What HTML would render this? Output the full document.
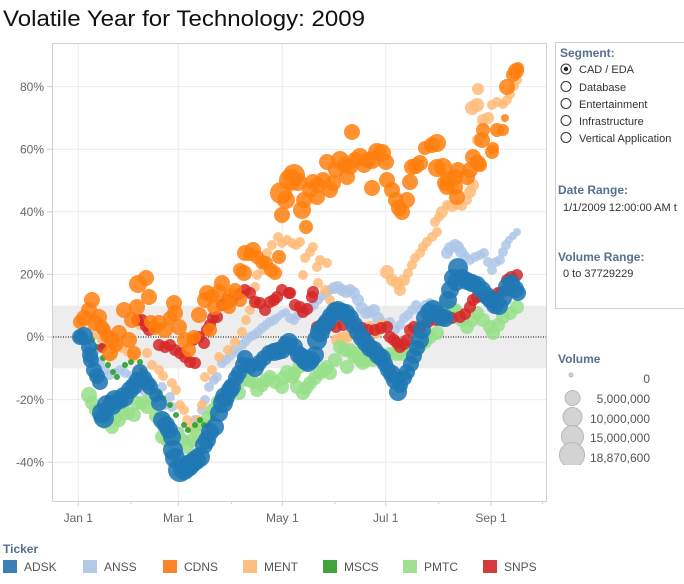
<!DOCTYPE html>
<html><head><meta charset="utf-8"><style>
html,body{margin:0;padding:0;background:#fff;}
svg{display:block;font-family:"Liberation Sans",Arial,sans-serif;}
.adsk circle{fill:#1f77b4;fill-opacity:.88}
.anss circle{fill:#aec7e8;fill-opacity:.85}
.cdns circle{fill:#ff7f0e;fill-opacity:.85}
.ment circle{fill:#ffbb78;fill-opacity:.85}
.mscs circle{fill:#2ca02c;fill-opacity:.9}
.pmtc circle{fill:#98df8a;fill-opacity:.85}
.snps circle{fill:#d62728;fill-opacity:.85}
.lab{font-size:12px;fill:#666}
.pt{font-size:11px;fill:#333}
.ttl{font-size:12px;font-weight:bold;fill:#56708f}
</style></head><body>
<svg width="684" height="584" viewBox="0 0 684 584" xmlns="http://www.w3.org/2000/svg">
<text x="3" y="26" font-size="22" fill="#111" textLength="362" lengthAdjust="spacingAndGlyphs">Volatile Year for Technology: 2009</text>

<rect x="53" y="305.7" width="493" height="62.6" fill="#ededed"/>
<g stroke="#ebebeb" stroke-width="1">
<line x1="53" y1="86.6" x2="546" y2="86.6"/>
<line x1="53" y1="149.2" x2="546" y2="149.2"/>
<line x1="53" y1="211.8" x2="546" y2="211.8"/>
<line x1="53" y1="274.4" x2="546" y2="274.4"/>
<line x1="53" y1="399.6" x2="546" y2="399.6"/>
<line x1="53" y1="462.2" x2="546" y2="462.2"/>
<line x1="78.3" y1="44" x2="78.3" y2="501"/>
<line x1="178.3" y1="44" x2="178.3" y2="501"/>
<line x1="282.3" y1="44" x2="282.3" y2="501"/>
<line x1="385.7" y1="44" x2="385.7" y2="501"/>
<line x1="491" y1="44" x2="491" y2="501"/>
</g>
<line x1="53" y1="337" x2="546" y2="337" stroke="#000" stroke-width="1" stroke-dasharray="1,1.5"/>
<g stroke="#d0d0d0" stroke-width="1" fill="none">
<line x1="52.5" y1="43.5" x2="546.5" y2="43.5"/>
<line x1="52.5" y1="43.5" x2="52.5" y2="501.5"/>
<line x1="546.5" y1="43.5" x2="546.5" y2="501.5"/>
<line x1="52.5" y1="501.5" x2="546.5" y2="501.5"/>
<line x1="47" y1="86.6" x2="52" y2="86.6"/>
<line x1="47" y1="149.2" x2="52" y2="149.2"/>
<line x1="47" y1="211.8" x2="52" y2="211.8"/>
<line x1="47" y1="274.4" x2="52" y2="274.4"/>
<line x1="47" y1="337" x2="52" y2="337"/>
<line x1="47" y1="399.6" x2="52" y2="399.6"/>
<line x1="47" y1="462.2" x2="52" y2="462.2"/>
<line x1="78.3" y1="502" x2="78.3" y2="506"/>
<line x1="178.3" y1="502" x2="178.3" y2="506"/>
<line x1="282.3" y1="502" x2="282.3" y2="506"/>
<line x1="385.7" y1="502" x2="385.7" y2="506"/>
<line x1="491" y1="502" x2="491" y2="506"/>
<line x1="131" y1="502" x2="131" y2="504"/>
<line x1="231.3" y1="502" x2="231.3" y2="504"/>
<line x1="335" y1="502" x2="335" y2="504"/>
<line x1="438.7" y1="502" x2="438.7" y2="504"/>
<line x1="542.4" y1="502" x2="542.4" y2="504"/>
</g>
<g class="lab" text-anchor="end">
<text x="44" y="91">80%</text>
<text x="44" y="153.5">60%</text>
<text x="44" y="216">40%</text>
<text x="44" y="278.5">20%</text>
<text x="44" y="341">0%</text>
<text x="44" y="404">-20%</text>
<text x="44" y="466.5">-40%</text>
</g>
<g class="lab" text-anchor="middle">
<text x="78.3" y="522">Jan 1</text>
<text x="178.3" y="522">Mar 1</text>
<text x="282.3" y="522">May 1</text>
<text x="385.7" y="522">Jul 1</text>
<text x="491" y="522">Sep 1</text>
</g>

<g class="anss">
<circle cx="82" cy="337" r="5"/><circle cx="88" cy="345" r="4"/><circle cx="95" cy="352" r="4"/><circle cx="100" cy="362" r="5"/><circle cx="105" cy="370" r="5"/><circle cx="110" cy="375" r="5"/><circle cx="115" cy="372" r="4"/><circle cx="120" cy="370" r="5"/><circle cx="125" cy="373" r="5"/><circle cx="130" cy="375" r="4"/><circle cx="135" cy="380" r="4"/><circle cx="140" cy="388" r="5"/><circle cx="145" cy="392" r="5"/><circle cx="152" cy="383" r="5"/><circle cx="155" cy="404" r="5"/><circle cx="162" cy="387" r="5"/><circle cx="165" cy="405" r="5"/><circle cx="170" cy="397" r="5"/><circle cx="172" cy="407" r="5"/><circle cx="180" cy="432" r="5"/><circle cx="185" cy="440" r="5"/><circle cx="192" cy="443" r="5"/><circle cx="195" cy="420" r="5"/><circle cx="202" cy="410" r="5"/><circle cx="205" cy="400" r="5"/><circle cx="209" cy="387" r="5"/><circle cx="214" cy="380" r="5"/><circle cx="217" cy="377" r="5"/><circle cx="222" cy="363" r="5"/><circle cx="226" cy="360" r="5"/><circle cx="230" cy="356" r="5"/><circle cx="234" cy="350" r="5"/><circle cx="239" cy="353" r="5"/><circle cx="242" cy="345" r="5"/><circle cx="246" cy="341" r="5"/><circle cx="250" cy="337" r="5"/><circle cx="254" cy="335" r="5"/><circle cx="258" cy="332" r="5"/><circle cx="262" cy="328" r="5"/><circle cx="266" cy="325" r="5"/><circle cx="270" cy="322" r="5"/><circle cx="274" cy="320" r="5"/><circle cx="278" cy="317" r="4"/><circle cx="282" cy="314" r="4"/><circle cx="286" cy="312" r="4"/><circle cx="290" cy="318" r="5"/><circle cx="294" cy="320" r="5"/><circle cx="298" cy="315" r="5"/><circle cx="302" cy="312" r="5"/><circle cx="306" cy="310" r="5"/><circle cx="310" cy="308" r="5"/><circle cx="314" cy="305" r="5"/><circle cx="318" cy="300" r="5"/><circle cx="322" cy="296" r="5"/><circle cx="326" cy="293" r="5"/><circle cx="330" cy="290" r="5"/><circle cx="334" cy="288" r="6"/><circle cx="338" cy="287" r="6"/><circle cx="342" cy="290" r="6"/><circle cx="346" cy="292" r="6"/><circle cx="350" cy="290" r="6"/><circle cx="354" cy="293" r="6"/><circle cx="358" cy="300" r="6"/><circle cx="362" cy="308" r="6"/><circle cx="366" cy="313" r="6"/><circle cx="370" cy="312" r="6"/><circle cx="374" cy="310" r="6"/><circle cx="378" cy="318" r="6"/><circle cx="382" cy="322" r="5"/><circle cx="386" cy="325" r="5"/><circle cx="390" cy="322" r="5"/><circle cx="395" cy="330" r="5"/><circle cx="400" cy="325" r="5"/><circle cx="404" cy="318" r="5"/><circle cx="408" cy="315" r="5"/><circle cx="412" cy="310" r="5"/><circle cx="416" cy="305" r="5"/><circle cx="420" cy="310" r="5"/><circle cx="425" cy="305" r="5"/><circle cx="430" cy="303" r="5"/><circle cx="435" cy="308" r="5"/><circle cx="440" cy="308" r="5"/><circle cx="444" cy="300" r="5"/><circle cx="447" cy="253" r="6"/><circle cx="450" cy="248" r="6"/><circle cx="455" cy="245" r="6"/><circle cx="458" cy="247" r="6"/><circle cx="461" cy="252" r="6"/><circle cx="465" cy="256" r="5"/><circle cx="470" cy="260" r="5"/><circle cx="475" cy="257" r="5"/><circle cx="480" cy="255" r="5"/><circle cx="484" cy="253" r="5"/><circle cx="488" cy="262" r="5"/><circle cx="492" cy="270" r="5"/><circle cx="496" cy="262" r="5"/><circle cx="500" cy="260" r="5"/><circle cx="503" cy="252" r="5"/><circle cx="506" cy="245" r="5"/><circle cx="509" cy="240" r="4"/><circle cx="513" cy="236" r="4"/><circle cx="517" cy="232" r="4"/>
</g>

<g class="ment">
<circle cx="80" cy="337" r="5"/><circle cx="95" cy="335" r="5"/><circle cx="102" cy="340" r="5"/><circle cx="105" cy="345" r="5"/><circle cx="110" cy="357" r="5"/><circle cx="115" cy="350" r="4"/><circle cx="122" cy="348" r="5"/><circle cx="128" cy="352" r="5"/><circle cx="133" cy="357" r="5"/><circle cx="140" cy="325" r="5"/><circle cx="147" cy="353" r="5"/><circle cx="152" cy="365" r="5"/><circle cx="159" cy="370" r="5"/><circle cx="163" cy="376" r="5"/><circle cx="172" cy="383" r="5"/><circle cx="176" cy="390" r="5"/><circle cx="180" cy="405" r="5"/><circle cx="184" cy="410" r="5"/><circle cx="187" cy="420" r="5"/><circle cx="190" cy="428" r="5"/><circle cx="195" cy="430" r="5"/><circle cx="198" cy="420" r="5"/><circle cx="202" cy="405" r="5"/><circle cx="205" cy="377" r="5"/><circle cx="212" cy="370" r="5"/><circle cx="219" cy="357" r="5"/><circle cx="228" cy="350" r="5"/><circle cx="235" cy="342" r="5"/><circle cx="242" cy="332" r="5"/><circle cx="246" cy="320" r="5"/><circle cx="250" cy="310" r="5"/><circle cx="255" cy="300" r="5"/><circle cx="255" cy="287" r="5"/><circle cx="257" cy="275" r="5"/><circle cx="263" cy="270" r="5"/><circle cx="267" cy="253" r="5"/><circle cx="272" cy="245" r="5"/><circle cx="278" cy="237" r="5"/><circle cx="282" cy="243" r="5"/><circle cx="287" cy="240" r="5"/><circle cx="292" cy="243" r="5"/><circle cx="296" cy="245" r="5"/><circle cx="300" cy="242" r="5"/><circle cx="305" cy="258" r="5"/><circle cx="310" cy="252" r="5"/><circle cx="313" cy="247" r="5"/><circle cx="317" cy="267" r="5"/><circle cx="320" cy="260" r="5"/><circle cx="327" cy="263" r="5"/><circle cx="303" cy="275" r="5"/><circle cx="318" cy="283" r="5"/><circle cx="325" cy="290" r="5"/><circle cx="330" cy="300" r="5"/><circle cx="335" cy="320" r="6"/><circle cx="337" cy="340" r="6"/><circle cx="342" cy="338" r="6"/><circle cx="347" cy="337" r="6"/><circle cx="352" cy="334" r="6"/><circle cx="358" cy="330" r="6"/><circle cx="364" cy="328" r="6"/><circle cx="370" cy="327" r="6"/><circle cx="375" cy="333" r="6"/><circle cx="378" cy="330" r="6"/><circle cx="382" cy="325" r="6"/><circle cx="387" cy="272" r="7"/><circle cx="392" cy="280" r="6"/><circle cx="397" cy="283" r="6"/><circle cx="400" cy="290" r="6"/><circle cx="404" cy="280" r="6"/><circle cx="408" cy="273" r="5"/><circle cx="412" cy="265" r="5"/><circle cx="415" cy="258" r="5"/><circle cx="420" cy="253" r="5"/><circle cx="423" cy="247" r="5"/><circle cx="427" cy="242" r="5"/><circle cx="432" cy="237" r="5"/><circle cx="437" cy="232" r="5"/><circle cx="435" cy="222" r="5"/><circle cx="439" cy="217" r="5"/><circle cx="442" cy="212" r="6"/><circle cx="447" cy="205" r="5"/><circle cx="452" cy="206" r="6"/><circle cx="457" cy="205" r="5"/><circle cx="462" cy="206" r="5"/><circle cx="467" cy="200" r="5"/><circle cx="470" cy="192" r="6"/><circle cx="473" cy="185" r="6"/><circle cx="476" cy="160" r="6"/><circle cx="478" cy="140" r="6"/><circle cx="472" cy="108" r="7"/><circle cx="477" cy="105" r="7"/><circle cx="478" cy="89" r="6"/><circle cx="483" cy="120" r="6"/><circle cx="488" cy="118" r="6"/><circle cx="492" cy="105" r="5"/><circle cx="497" cy="102" r="5"/><circle cx="503" cy="104" r="5"/><circle cx="507" cy="100" r="5"/><circle cx="510" cy="94" r="5"/><circle cx="514" cy="86" r="5"/><circle cx="517" cy="80" r="5"/>
</g>

<g class="pmtc">
<circle cx="89" cy="395" r="8"/><circle cx="92" cy="403" r="7"/><circle cx="96" cy="410" r="7"/><circle cx="100" cy="418" r="7"/><circle cx="105" cy="422" r="7"/><circle cx="112" cy="427" r="7"/><circle cx="115" cy="417" r="7"/><circle cx="119" cy="420" r="7"/><circle cx="124" cy="413" r="7"/><circle cx="128" cy="413" r="7"/><circle cx="134" cy="415" r="7"/><circle cx="137" cy="403" r="7"/><circle cx="142" cy="403" r="7"/><circle cx="147" cy="407" r="7"/><circle cx="152" cy="397" r="7"/><circle cx="156" cy="416" r="7"/><circle cx="160" cy="417" r="7"/><circle cx="162" cy="437" r="7"/><circle cx="167" cy="440" r="7"/><circle cx="172" cy="437" r="7"/><circle cx="177" cy="434" r="7"/><circle cx="182" cy="440" r="7"/><circle cx="187" cy="447" r="7"/><circle cx="192" cy="440" r="7"/><circle cx="197" cy="432" r="7"/><circle cx="203" cy="425" r="7"/><circle cx="208" cy="418" r="7"/><circle cx="213" cy="410" r="7"/><circle cx="218" cy="402" r="7"/><circle cx="223" cy="398" r="7"/><circle cx="228" cy="392" r="7"/><circle cx="233" cy="386" r="7"/><circle cx="239" cy="393" r="7"/><circle cx="243" cy="380" r="7"/><circle cx="249" cy="380" r="7"/><circle cx="253" cy="382" r="7"/><circle cx="257" cy="390" r="7"/><circle cx="262" cy="385" r="7"/><circle cx="266" cy="380" r="7"/><circle cx="270" cy="377" r="7"/><circle cx="275" cy="382" r="7"/><circle cx="282" cy="387" r="7"/><circle cx="283" cy="378" r="7"/><circle cx="287" cy="372" r="7"/><circle cx="292" cy="377" r="7"/><circle cx="294" cy="374" r="7"/><circle cx="297" cy="387" r="7"/><circle cx="299" cy="367" r="7"/><circle cx="303" cy="393" r="7"/><circle cx="306" cy="388" r="7"/><circle cx="310" cy="383" r="7"/><circle cx="315" cy="378" r="7"/><circle cx="320" cy="373" r="7"/><circle cx="324" cy="370" r="7"/><circle cx="327" cy="367" r="7"/><circle cx="330" cy="373" r="7"/><circle cx="335" cy="360" r="7"/><circle cx="340" cy="347" r="7"/><circle cx="345" cy="350" r="7"/><circle cx="350" cy="350" r="7"/><circle cx="347" cy="367" r="7"/><circle cx="354" cy="356" r="7"/><circle cx="357" cy="353" r="7"/><circle cx="360" cy="360" r="7"/><circle cx="363" cy="363" r="7"/><circle cx="367" cy="360" r="7"/><circle cx="370" cy="357" r="7"/><circle cx="373" cy="360" r="7"/><circle cx="378" cy="358" r="7"/><circle cx="383" cy="356" r="7"/><circle cx="390" cy="354" r="7"/><circle cx="397" cy="354" r="7"/><circle cx="403" cy="354" r="7"/><circle cx="410" cy="353" r="7"/><circle cx="415" cy="350" r="7"/><circle cx="420" cy="346" r="7"/><circle cx="425" cy="342" r="7"/><circle cx="430" cy="337" r="7"/><circle cx="437" cy="333" r="7"/><circle cx="443" cy="320" r="7"/><circle cx="450" cy="307" r="7"/><circle cx="455" cy="310" r="7"/><circle cx="457" cy="313" r="7"/><circle cx="462" cy="320" r="7"/><circle cx="467" cy="327" r="7"/><circle cx="472" cy="320" r="7"/><circle cx="477" cy="313" r="7"/><circle cx="483" cy="320" r="7"/><circle cx="490" cy="327" r="7"/><circle cx="493" cy="333" r="7"/><circle cx="498" cy="325" r="7"/><circle cx="503" cy="317" r="7"/><circle cx="510" cy="313" r="7"/><circle cx="517" cy="307" r="7"/>
</g>

<g class="mscs">
<circle cx="85" cy="338" r="3"/><circle cx="92" cy="340" r="3"/><circle cx="97" cy="347" r="3"/><circle cx="102" cy="347" r="3"/><circle cx="103" cy="358" r="3"/><circle cx="108" cy="365" r="3"/><circle cx="113" cy="372" r="3"/><circle cx="117" cy="377" r="3"/><circle cx="125" cy="365" r="3"/><circle cx="131" cy="362" r="3"/><circle cx="140" cy="362" r="3"/><circle cx="142" cy="370" r="3"/><circle cx="147" cy="380" r="3"/><circle cx="152" cy="388" r="3"/><circle cx="159" cy="393" r="3"/><circle cx="163" cy="398" r="3"/><circle cx="170" cy="405" r="3"/><circle cx="176" cy="415" r="3"/><circle cx="184" cy="425" r="3"/><circle cx="188" cy="430" r="3"/><circle cx="195" cy="425" r="3"/><circle cx="200" cy="420" r="3"/><circle cx="204" cy="425" r="3"/><circle cx="213" cy="418" r="3"/><circle cx="219" cy="410" r="3"/><circle cx="225" cy="395" r="3"/><circle cx="230" cy="390" r="3"/>
</g>

<g class="snps">
<circle cx="80" cy="337" r="6"/><circle cx="102" cy="348" r="5"/><circle cx="137" cy="320" r="6"/><circle cx="142" cy="320" r="6"/><circle cx="146" cy="326" r="6"/><circle cx="149" cy="330" r="6"/><circle cx="153" cy="327" r="6"/><circle cx="159" cy="345" r="6"/><circle cx="165" cy="347" r="6"/><circle cx="170" cy="345" r="6"/><circle cx="175" cy="350" r="6"/><circle cx="180" cy="353" r="6"/><circle cx="185" cy="357" r="6"/><circle cx="190" cy="362" r="6"/><circle cx="193" cy="340" r="6"/><circle cx="195" cy="363" r="6"/><circle cx="199" cy="337" r="6"/><circle cx="204" cy="343" r="6"/><circle cx="207" cy="330" r="6"/><circle cx="210" cy="325" r="6"/><circle cx="213" cy="318" r="6"/><circle cx="217" cy="317" r="6"/><circle cx="222" cy="305" r="6"/><circle cx="227" cy="300" r="6"/><circle cx="232" cy="300" r="6"/><circle cx="239" cy="294" r="6"/><circle cx="245" cy="290" r="6"/><circle cx="250" cy="293" r="6"/><circle cx="255" cy="302" r="6"/><circle cx="260" cy="303" r="6"/><circle cx="265" cy="310" r="6"/><circle cx="270" cy="302" r="6"/><circle cx="274" cy="300" r="6"/><circle cx="277" cy="297" r="6"/><circle cx="282" cy="290" r="6"/><circle cx="289" cy="293" r="6"/><circle cx="290" cy="293" r="6"/><circle cx="295" cy="305" r="6"/><circle cx="300" cy="307" r="6"/><circle cx="303" cy="312" r="6"/><circle cx="307" cy="309" r="6"/><circle cx="312" cy="297" r="6"/><circle cx="313" cy="292" r="6"/><circle cx="317" cy="327" r="6"/><circle cx="323" cy="323" r="6"/><circle cx="330" cy="325" r="6"/><circle cx="336" cy="327" r="6"/><circle cx="343" cy="325" r="6"/><circle cx="350" cy="323" r="6"/><circle cx="356" cy="326" r="6"/><circle cx="362" cy="328" r="6"/><circle cx="368" cy="330" r="6"/><circle cx="375" cy="330" r="6"/><circle cx="381" cy="328" r="6"/><circle cx="387" cy="327" r="6"/><circle cx="390" cy="337" r="6"/><circle cx="394" cy="340" r="6"/><circle cx="397" cy="343" r="6"/><circle cx="400" cy="347" r="6"/><circle cx="404" cy="344" r="6"/><circle cx="407" cy="340" r="6"/><circle cx="410" cy="330" r="6"/><circle cx="414" cy="327" r="6"/><circle cx="420" cy="328" r="6"/><circle cx="428" cy="322" r="6"/><circle cx="436" cy="320" r="6"/><circle cx="444" cy="318" r="6"/><circle cx="452" cy="318" r="6"/><circle cx="460" cy="317" r="6"/><circle cx="465" cy="314" r="6"/><circle cx="470" cy="307" r="6"/><circle cx="473" cy="300" r="6"/><circle cx="477" cy="297" r="6"/><circle cx="482" cy="296" r="6"/><circle cx="487" cy="295" r="6"/><circle cx="493" cy="297" r="6"/><circle cx="498" cy="293" r="6"/><circle cx="502" cy="292" r="6"/><circle cx="507" cy="280" r="6"/><circle cx="511" cy="277" r="6"/><circle cx="517" cy="275" r="6"/>
</g>

<g class="cdns">
<circle cx="80" cy="322" r="7"/><circle cx="84" cy="318" r="8"/><circle cx="89" cy="310" r="8"/><circle cx="92" cy="300" r="8"/><circle cx="95" cy="323" r="8"/><circle cx="99" cy="317" r="8"/><circle cx="102" cy="327" r="7"/><circle cx="104" cy="330" r="7"/><circle cx="107" cy="336" r="7"/><circle cx="110" cy="353" r="8"/><circle cx="112" cy="340" r="8"/><circle cx="116" cy="345" r="7"/><circle cx="119" cy="333" r="8"/><circle cx="124" cy="310" r="8"/><circle cx="129" cy="340" r="8"/><circle cx="132" cy="320" r="8"/><circle cx="134" cy="353" r="7"/><circle cx="137" cy="307" r="8"/><circle cx="138" cy="284" r="9"/><circle cx="146" cy="278" r="8"/><circle cx="149" cy="297" r="8"/><circle cx="151" cy="322" r="7"/><circle cx="155" cy="328" r="7"/><circle cx="159" cy="323" r="8"/><circle cx="165" cy="330" r="8"/><circle cx="170" cy="318" r="7"/><circle cx="174" cy="303" r="8"/><circle cx="175" cy="313" r="8"/><circle cx="179" cy="327" r="8"/><circle cx="185" cy="340" r="8"/><circle cx="189" cy="350" r="7"/><circle cx="194" cy="337" r="7"/><circle cx="199" cy="315" r="8"/><circle cx="205" cy="300" r="8"/><circle cx="207" cy="293" r="8"/><circle cx="210" cy="330" r="7"/><circle cx="212" cy="296" r="7"/><circle cx="215" cy="307" r="8"/><circle cx="219" cy="292" r="8"/><circle cx="222" cy="283" r="8"/><circle cx="227" cy="303" r="7"/><circle cx="229" cy="307" r="7"/><circle cx="230" cy="295" r="7"/><circle cx="235" cy="290" r="7"/><circle cx="240" cy="300" r="7"/><circle cx="240" cy="270" r="7"/><circle cx="244" cy="273" r="8"/><circle cx="245" cy="253" r="8"/><circle cx="250" cy="254" r="7"/><circle cx="253" cy="250" r="8"/><circle cx="257" cy="257" r="7"/><circle cx="262" cy="262" r="7"/><circle cx="266" cy="263" r="7"/><circle cx="271" cy="270" r="7"/><circle cx="275" cy="273" r="7"/><circle cx="279" cy="257" r="7"/><circle cx="282" cy="215" r="8"/><circle cx="281" cy="193" r="11"/><circle cx="286" cy="200" r="9"/><circle cx="290" cy="180" r="11"/><circle cx="294" cy="175" r="11"/><circle cx="298" cy="182" r="9"/><circle cx="302" cy="210" r="9"/><circle cx="304" cy="200" r="8"/><circle cx="306" cy="227" r="7"/><circle cx="310" cy="190" r="8"/><circle cx="313" cy="182" r="8"/><circle cx="317" cy="197" r="8"/><circle cx="318" cy="185" r="8"/><circle cx="323" cy="180" r="8"/><circle cx="327" cy="162" r="8"/><circle cx="330" cy="190" r="8"/><circle cx="333" cy="183" r="8"/><circle cx="336" cy="170" r="8"/><circle cx="340" cy="160" r="9"/><circle cx="345" cy="165" r="8"/><circle cx="347" cy="177" r="8"/><circle cx="350" cy="167" r="8"/><circle cx="352" cy="132" r="8"/><circle cx="355" cy="160" r="8"/><circle cx="360" cy="157" r="9"/><circle cx="364" cy="165" r="8"/><circle cx="368" cy="160" r="8"/><circle cx="372" cy="160" r="9"/><circle cx="372" cy="188" r="8"/><circle cx="377" cy="152" r="9"/><circle cx="382" cy="153" r="9"/><circle cx="386" cy="162" r="8"/><circle cx="387" cy="180" r="8"/><circle cx="392" cy="190" r="8"/><circle cx="396" cy="200" r="8"/><circle cx="399" cy="208" r="8"/><circle cx="402" cy="212" r="8"/><circle cx="407" cy="200" r="8"/><circle cx="410" cy="182" r="8"/><circle cx="412" cy="167" r="8"/><circle cx="416" cy="166" r="8"/><circle cx="420" cy="163" r="8"/><circle cx="425" cy="148" r="7"/><circle cx="432" cy="145" r="8"/><circle cx="437" cy="143" r="9"/><circle cx="443" cy="167" r="9"/><circle cx="437" cy="168" r="9"/><circle cx="445" cy="183" r="8"/><circle cx="448" cy="180" r="8"/><circle cx="447" cy="187" r="8"/><circle cx="455" cy="187" r="8"/><circle cx="457" cy="197" r="8"/><circle cx="455" cy="177" r="8"/><circle cx="458" cy="170" r="8"/><circle cx="467" cy="177" r="8"/><circle cx="470" cy="170" r="8"/><circle cx="473" cy="157" r="8"/><circle cx="478" cy="163" r="8"/><circle cx="480" cy="165" r="7"/><circle cx="482" cy="140" r="8"/><circle cx="483" cy="130" r="7"/><circle cx="492" cy="152" r="7"/><circle cx="493" cy="148" r="6"/><circle cx="497" cy="130" r="7"/><circle cx="503" cy="130" r="6"/><circle cx="505" cy="118" r="4"/><circle cx="507" cy="87" r="8"/><circle cx="513" cy="75" r="7"/><circle cx="516" cy="71" r="8"/><circle cx="518" cy="68" r="6"/>
</g>

<g class="adsk">
<circle cx="80" cy="337" r="8"/><circle cx="84" cy="336" r="9"/><circle cx="89" cy="347" r="8"/><circle cx="90" cy="355" r="8"/><circle cx="91" cy="360" r="8"/><circle cx="94" cy="370" r="8"/><circle cx="97" cy="376" r="8"/><circle cx="100" cy="382" r="8"/><circle cx="102" cy="413" r="10"/><circle cx="104" cy="418" r="10"/><circle cx="107" cy="405" r="10"/><circle cx="112" cy="405" r="10"/><circle cx="115" cy="400" r="10"/><circle cx="120" cy="400" r="9"/><circle cx="124" cy="397" r="10"/><circle cx="130" cy="390" r="9"/><circle cx="134" cy="386" r="9"/><circle cx="137" cy="380" r="8"/><circle cx="140" cy="372" r="8"/><circle cx="144" cy="378" r="8"/><circle cx="147" cy="383" r="8"/><circle cx="150" cy="387" r="8"/><circle cx="156" cy="395" r="7"/><circle cx="159" cy="403" r="8"/><circle cx="162" cy="420" r="9"/><circle cx="166" cy="425" r="9"/><circle cx="169" cy="430" r="9"/><circle cx="172" cy="437" r="9"/><circle cx="173" cy="450" r="10"/><circle cx="175" cy="458" r="10"/><circle cx="180" cy="470" r="12"/><circle cx="184" cy="469" r="11"/><circle cx="188" cy="466" r="11"/><circle cx="192" cy="463" r="10"/><circle cx="196" cy="460" r="10"/><circle cx="200" cy="457" r="10"/><circle cx="204" cy="445" r="9"/><circle cx="207" cy="440" r="9"/><circle cx="210" cy="432" r="9"/><circle cx="215" cy="427" r="9"/><circle cx="219" cy="413" r="9"/><circle cx="223" cy="403" r="10"/><circle cx="225" cy="397" r="10"/><circle cx="230" cy="390" r="9"/><circle cx="232" cy="387" r="9"/><circle cx="236" cy="378" r="8"/><circle cx="239" cy="373" r="8"/><circle cx="243" cy="365" r="8"/><circle cx="245" cy="358" r="8"/><circle cx="250" cy="366" r="8"/><circle cx="255" cy="368" r="9"/><circle cx="259" cy="363" r="8"/><circle cx="264" cy="358" r="8"/><circle cx="269" cy="353" r="8"/><circle cx="274" cy="352" r="9"/><circle cx="278" cy="351" r="9"/><circle cx="282" cy="350" r="9"/><circle cx="286" cy="345" r="9"/><circle cx="289" cy="342" r="9"/><circle cx="294" cy="347" r="9"/><circle cx="299" cy="355" r="9"/><circle cx="302" cy="357" r="9"/><circle cx="305" cy="361" r="9"/><circle cx="308" cy="363" r="9"/><circle cx="311" cy="360" r="9"/><circle cx="315" cy="355" r="9"/><circle cx="317" cy="340" r="10"/><circle cx="320" cy="332" r="10"/><circle cx="323" cy="327" r="9"/><circle cx="327" cy="322" r="9"/><circle cx="331" cy="316" r="9"/><circle cx="335" cy="311" r="9"/><circle cx="338" cy="310" r="9"/><circle cx="342" cy="312" r="9"/><circle cx="346" cy="313" r="9"/><circle cx="350" cy="318" r="9"/><circle cx="354" cy="325" r="9"/><circle cx="358" cy="332" r="9"/><circle cx="362" cy="338" r="9"/><circle cx="366" cy="343" r="9"/><circle cx="370" cy="348" r="9"/><circle cx="374" cy="350" r="9"/><circle cx="378" cy="355" r="9"/><circle cx="382" cy="358" r="9"/><circle cx="385" cy="364" r="8"/><circle cx="388" cy="370" r="8"/><circle cx="392" cy="374" r="9"/><circle cx="395" cy="380" r="9"/><circle cx="398" cy="392" r="9"/><circle cx="400" cy="385" r="8"/><circle cx="404" cy="378" r="8"/><circle cx="407" cy="372" r="8"/><circle cx="411" cy="364" r="8"/><circle cx="414" cy="356" r="8"/><circle cx="417" cy="348" r="8"/><circle cx="420" cy="340" r="9"/><circle cx="422" cy="330" r="9"/><circle cx="425" cy="318" r="9"/><circle cx="429" cy="312" r="9"/><circle cx="433" cy="310" r="10"/><circle cx="437" cy="314" r="9"/><circle cx="441" cy="317" r="9"/><circle cx="445" cy="318" r="9"/><circle cx="448" cy="300" r="9"/><circle cx="450" cy="290" r="9"/><circle cx="453" cy="278" r="9"/><circle cx="458" cy="268" r="10"/><circle cx="456" cy="282" r="9"/><circle cx="462" cy="278" r="9"/><circle cx="467" cy="281" r="9"/><circle cx="472" cy="283" r="9"/><circle cx="477" cy="285" r="9"/><circle cx="482" cy="290" r="9"/><circle cx="487" cy="296" r="9"/><circle cx="491" cy="300" r="9"/><circle cx="495" cy="305" r="9"/><circle cx="499" cy="306" r="9"/><circle cx="503" cy="298" r="9"/><circle cx="507" cy="287" r="9"/><circle cx="511" cy="283" r="9"/><circle cx="515" cy="289" r="9"/><circle cx="518" cy="293" r="8"/>
</g>

<rect x="555.5" y="42.5" width="140" height="266" fill="#fff" stroke="#cfcfcf"/>
<text class="ttl" x="560" y="57">Segment:</text>
<g fill="#fff" stroke="#333" stroke-width="1">
<circle cx="566" cy="69" r="5"/>
<circle cx="566" cy="86.5" r="5"/>
<circle cx="566" cy="103.5" r="5"/>
<circle cx="566" cy="120.5" r="5"/>
<circle cx="566" cy="137.5" r="5"/>
</g>
<circle cx="566" cy="69" r="2.2" fill="#222"/>
<g class="pt">
<text x="579" y="73">CAD / EDA</text>
<text x="579" y="91">Database</text>
<text x="579" y="108">Entertainment</text>
<text x="579" y="125">Infrastructure</text>
<text x="579" y="142">Vertical Application</text>
</g>
<text class="ttl" x="558" y="194">Date Range:</text>
<text class="pt" x="563" y="211">1/1/2009 12:00:00 AM t</text>
<text class="ttl" x="558" y="261">Volume Range:</text>
<text class="pt" x="563" y="277">0 to 37729229</text>

<text class="ttl" x="558" y="363">Volume</text>
<g fill="#d3d3d3" stroke="#b8b8b8" stroke-width="1">
<circle cx="571" cy="375" r="2"/>
<circle cx="572.5" cy="398" r="7.5"/>
<circle cx="572.5" cy="417" r="9.5"/>
<circle cx="572.5" cy="436.5" r="11"/>
<circle cx="572" cy="455" r="12.5"/>
</g>
<rect x="556" y="465" width="40" height="10" fill="#fff"/>
<g font-size="12" fill="#555" text-anchor="end">
<text x="650" y="383">0</text>
<text x="650" y="403">5,000,000</text>
<text x="650" y="423">10,000,000</text>
<text x="650" y="442">15,000,000</text>
<text x="650" y="462">18,870,600</text>
</g>

<text class="ttl" x="3" y="553">Ticker</text>
<rect x="3" y="560" width="14" height="13" fill="#3a7fb6"/>
<rect x="83" y="560" width="14" height="13" fill="#b4c9e6"/>
<rect x="163" y="560" width="14" height="13" fill="#fd8427"/>
<rect x="243" y="560" width="14" height="13" fill="#fcbf81"/>
<rect x="323" y="560" width="14" height="13" fill="#40a43c"/>
<rect x="403" y="560" width="14" height="13" fill="#a1e08f"/>
<rect x="483" y="560" width="14" height="13" fill="#d43c3c"/>
<g font-size="12" fill="#555">
<text x="24" y="571">ADSK</text>
<text x="104" y="571">ANSS</text>
<text x="184" y="571">CDNS</text>
<text x="264" y="571">MENT</text>
<text x="344" y="571">MSCS</text>
<text x="424" y="571">PMTC</text>
<text x="504" y="571">SNPS</text>
</g>
</svg>
</body></html>
